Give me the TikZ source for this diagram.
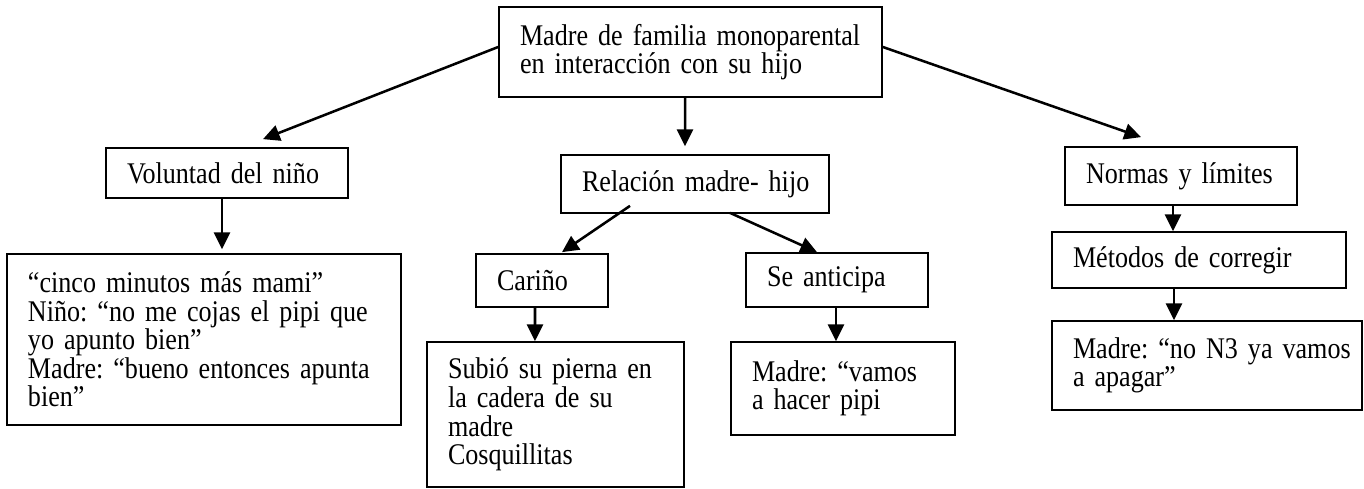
\documentclass[tikz,border=0pt]{standalone}
\usepackage{fontspec}
\setmainfont{Liberation Serif}[FakeStretch=0.87,WordSpace=0.85]
\usetikzlibrary{arrows.meta}
\tikzset{
  box/.style={draw, line width=1.3pt, align=left, inner xsep=0pt, inner ysep=0pt,
    anchor=center, font=\fontsize{22.5pt}{21.4pt}\selectfont\frenchspacing,
    execute at begin node={\leftskip=15.75pt}},
  arr/.style={line width=1.9pt, -{Triangle[length=12.5pt,width=12pt]}}
}
\begin{document}
\begin{tikzpicture}[x=0.75pt,y=-0.75pt]
\useasboundingbox (0,0) rectangle (1364,489);
\node[box,text width=287.25pt,minimum height=67.5pt] (top) at (690.5,52) {Madre de familia monoparental\\en interacción con su hijo};
\node[box,text width=181.5pt,minimum height=37.5pt] (vol) at (227,173) {Voluntad del niño};
\node[box,text width=201pt,minimum height=43.5pt] (rel) at (695,184) {Relación madre- hijo};
\node[box,text width=174pt,minimum height=43.5pt] (nor) at (1181,176) {Normas y límites};
\node[box,text width=220.5pt,minimum height=42pt] (met) at (1199,260) {Métodos de corregir};
\node[box,text width=232.5pt,minimum height=66.75pt] (ntres) at (1207,365.5) {Madre: “no N3 ya vamos\\a apagar”};
\node[box,text width=295.5pt,minimum height=128.25pt] (quote) at (204,339.5) {“cinco minutos más mami”\\Niño: “no me cojas el pipi que\\yo apunto bien”\\Madre: “bueno entonces apunta\\bien”};
\node[box,text width=99pt,minimum height=39.75pt] (car) at (542,280.5) {Cariño};
\node[box,text width=192.75pt,minimum height=108.75pt] (sub) at (555.5,414.5) {Subió su pierna en\\la cadera de su\\madre\\Cosquillitas};
\node[box,text width=136.5pt,minimum height=40.5pt] (sea) at (837,280) {Se anticipa};
\node[box,text width=168pt,minimum height=69.75pt] (vam) at (843,388.5) {Madre: “vamos\\a hacer pipi};

\draw[arr] ([yshift=3.75pt]top.west) -- ([xshift=27pt,yshift=6pt]vol.north);
\draw[arr] ([xshift=-4.1pt]top.south) -- ([xshift=-7.5pt,yshift=6pt]rel.north);
\draw[arr] ([yshift=3.75pt]top.east) -- ([xshift=-30pt,yshift=6.75pt]nor.north);
\draw[arr] ([xshift=-3.75pt]vol.south) -- ([xshift=13.5pt,yshift=3pt]quote.north);
\draw[arr] ([xshift=-48.75pt,yshift=6pt]rel.south) -- ([xshift=15pt,yshift=0.75pt]car.north);
\draw[arr] ([xshift=26.25pt,yshift=0.75pt]rel.south) -- ([xshift=-15pt]sea.north);
\draw[arr] ([xshift=-5.25pt]car.south) -- ([xshift=-15.4pt]sub.north);
\draw[arr] ([xshift=-0.75pt]sea.south) -- ([xshift=-5.25pt]vam.north);
\draw[arr] ([xshift=-6pt]nor.south) -- ([xshift=-19.5pt]met.north);
\draw[arr] ([xshift=-18.75pt]met.south) -- ([xshift=-24.75pt]ntres.north);
\end{tikzpicture}
\end{document}
